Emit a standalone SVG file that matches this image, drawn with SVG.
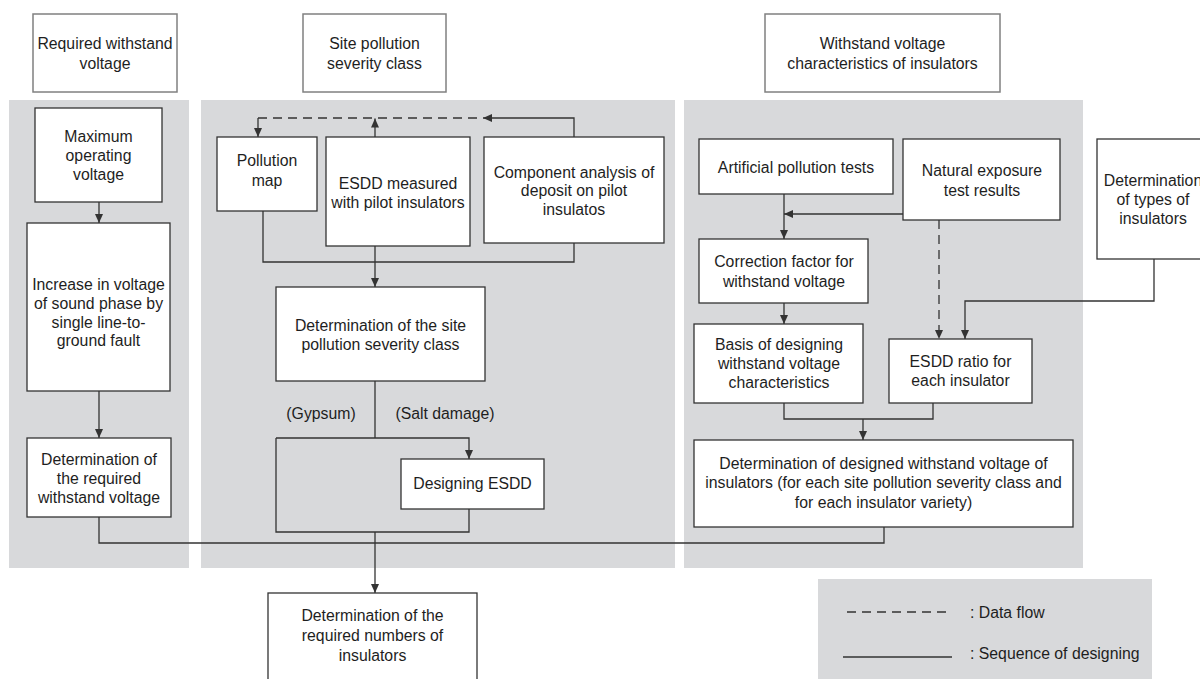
<svg xmlns="http://www.w3.org/2000/svg" width="1200" height="679" viewBox="0 0 1200 679">
<defs>
<style>
.panel{fill:#d8d9db;stroke:none}
.box{fill:#fff;stroke:#333;stroke-width:1.3}
.hdr{fill:#fff;stroke:#808080;stroke-width:1.5}
text{font-family:"Liberation Sans",Arial,sans-serif;font-size:15.8px;fill:#1e1e1e;text-anchor:middle}
.ln{fill:none;stroke:#333;stroke-width:1.3}
.dash{stroke-dasharray:9 6}
.lg{text-anchor:start}
</style>
<marker id="ah" markerUnits="userSpaceOnUse" markerWidth="11" markerHeight="9" refX="9" refY="4.5" orient="auto"><path d="M0,0.5 L9,4.5 L0,8.5 z" fill="#333"/></marker>
</defs>
<rect x="0" y="0" width="1200" height="679" fill="#fff"/>
<g id="panels">
<rect class="panel" x="9" y="100" width="180" height="468"/>
<rect class="panel" x="201" y="100" width="474" height="468"/>
<rect class="panel" x="684" y="100" width="399" height="468"/>
</g>
<g id="hdr-required">
<rect class="hdr" x="33" y="14" width="144" height="78"/>
<text x="105" y="48.5">Required withstand</text>
<text x="105" y="68.5">voltage</text>
</g>
<g id="hdr-site">
<rect class="hdr" x="303" y="14" width="143" height="78"/>
<text x="374.5" y="48.5">Site pollution</text>
<text x="374.5" y="68.5">severity class</text>
</g>
<g id="hdr-withstand">
<rect class="hdr" x="765" y="14" width="235" height="78"/>
<text x="882.5" y="48.5">Withstand voltage</text>
<text x="882.5" y="68.5">characteristics of insulators</text>
</g>
<g id="max-voltage">
<rect class="box" x="35" y="108" width="127" height="94"/>
<text x="98.5" y="141.5">Maximum</text>
<text x="98.5" y="160.5">operating</text>
<text x="98.5" y="179.5">voltage</text>
</g>
<g id="increase">
<rect class="box" x="27" y="223" width="143" height="168"/>
<text x="98.5" y="289.5">Increase in voltage</text>
<text x="98.5" y="308.5">of sound phase by</text>
<text x="98.5" y="327.5">single line-to-</text>
<text x="98.5" y="346">ground fault</text>
</g>
<g id="det-required">
<rect class="box" x="27" y="438" width="144" height="79"/>
<text x="99" y="464.5">Determination of</text>
<text x="99" y="483.5">the required</text>
<text x="99" y="502.5">withstand voltage</text>
</g>
<g id="pollution-map">
<rect class="box" x="217" y="137" width="100" height="74"/>
<text x="267" y="166">Pollution</text>
<text x="267" y="185.5">map</text>
</g>
<g id="esdd-measured">
<rect class="box" x="326" y="137" width="144" height="109"/>
<text x="398" y="188.5">ESDD measured</text>
<text x="398" y="207.5">with pilot insulators</text>
</g>
<g id="component">
<rect class="box" x="484" y="137" width="180" height="106"/>
<text x="574" y="177.5">Component analysis of</text>
<text x="574" y="196">deposit on pilot</text>
<text x="574" y="214.5">insulatos</text>
</g>
<g id="det-site">
<rect class="box" x="276" y="287" width="209" height="94"/>
<text x="380.5" y="330.5">Determination of the site</text>
<text x="380.5" y="349.5">pollution severity class</text>
</g>
<g id="designing-esdd">
<rect class="box" x="401" y="459" width="143" height="50"/>
<text x="472.5" y="488.5">Designing ESDD</text>
</g>
<g id="det-numbers">
<rect class="box" x="268" y="593" width="209" height="95"/>
<text x="372.5" y="621">Determination of the</text>
<text x="372.5" y="640.5">required numbers of</text>
<text x="372.5" y="661">insulators</text>
</g>
<g id="artificial">
<rect class="box" x="699" y="139" width="194" height="55"/>
<text x="796" y="173">Artificial pollution tests</text>
</g>
<g id="natural">
<rect class="box" x="903" y="139" width="157" height="81"/>
<text x="982" y="175.5">Natural exposure</text>
<text x="982" y="195.5">test results</text>
</g>
<g id="types">
<rect class="box" x="1097" y="139" width="115" height="120"/>
<text x="1153" y="185.5">Determination</text>
<text x="1153" y="204.5">of types of</text>
<text x="1153" y="223.5">insulators</text>
</g>
<g id="correction">
<rect class="box" x="699" y="239" width="169" height="64"/>
<text x="784" y="267">Correction factor for</text>
<text x="784" y="287">withstand voltage</text>
</g>
<g id="basis">
<rect class="box" x="694" y="324" width="169" height="79"/>
<text x="779" y="349.5">Basis of designing</text>
<text x="779" y="368.5">withstand voltage</text>
<text x="779" y="387.5">characteristics</text>
</g>
<g id="esdd-ratio">
<rect class="box" x="889" y="339" width="143" height="64"/>
<text x="960.5" y="366.5">ESDD ratio for</text>
<text x="960.5" y="386">each insulator</text>
</g>
<g id="det-designed">
<rect class="box" x="694" y="440" width="379" height="87"/>
<text x="883.5" y="468.5">Determination of designed withstand voltage of</text>
<text x="883.5" y="488">insulators (for each site pollution severity class and</text>
<text x="883.5" y="507.5">for each insulator variety)</text>
</g>
<g id="legend">
<rect class="panel" x="818" y="579" width="334" height="100"/>
<path class="ln dash" d="M847,612 H952"/>
<path class="ln" d="M843,657 H952"/>
<text class="lg" x="970" y="618">: Data flow</text>
<text class="lg" x="970" y="659">: Sequence of designing</text>
</g>
<g id="connectors">
<path class="ln" d="M99,202 V223" marker-end="url(#ah)"/>
<path class="ln" d="M99,391 V438" marker-end="url(#ah)"/>
<path class="ln" d="M99,517 V543 H884 V527"/>
<path class="ln dash" d="M258,118 H483"/>
<path class="ln" d="M258,118 V137" marker-end="url(#ah)"/>
<path class="ln" d="M574,137 V118 H483" marker-end="url(#ah)"/>
<path class="ln" d="M375,137 V118.5" marker-end="url(#ah)"/>
<path class="ln" d="M263,211 V262 H574 V243"/>
<path class="ln" d="M375,246 V287" marker-end="url(#ah)"/>
<path class="ln" d="M375,381 V438"/>
<path class="ln" d="M276,438 H469 V459" marker-end="url(#ah)"/>
<path class="ln" d="M276,438 V532 H469 V509"/>
<path class="ln" d="M375,532 V593" marker-end="url(#ah)"/>
<path class="ln" d="M903,214 H784" marker-end="url(#ah)"/>
<path class="ln" d="M784,194 V239" marker-end="url(#ah)"/>
<path class="ln dash" d="M939,220 V339" marker-end="url(#ah)"/>
<path class="ln" d="M1154,259 V301 H965 V339" marker-end="url(#ah)"/>
<path class="ln" d="M784,303 V324" marker-end="url(#ah)"/>
<path class="ln" d="M784,403 V419 H933 V403"/>
<path class="ln" d="M863,419 V440" marker-end="url(#ah)"/>
</g>
<g id="labels">
<text x="321" y="418.5">(Gypsum)</text>
<text x="445" y="418.5">(Salt damage)</text>
</g>
</svg>
